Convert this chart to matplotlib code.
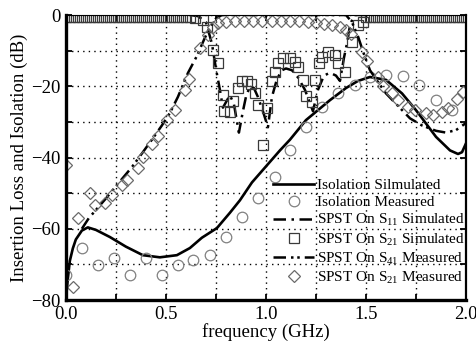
import matplotlib
matplotlib.use("Agg")
import matplotlib.pyplot as plt
from matplotlib.ticker import MultipleLocator

plt.rcParams['font.family'] = ['Liberation Serif', 'DejaVu Serif']
plt.rcParams['mathtext.fontset'] = 'custom'
plt.rcParams['mathtext.rm'] = 'Liberation Serif'
plt.rcParams['mathtext.it'] = 'Liberation Serif:italic'

# Isolation, simulated (solid)
iso_sim_f = [0.0, 0.005, 0.01, 0.02, 0.035, 0.05, 0.08, 0.11, 0.15, 0.22, 0.30, 0.385,
             0.47, 0.555, 0.62, 0.68, 0.755, 0.82, 0.87, 0.93, 1.0, 1.07, 1.12, 1.2,
             1.32, 1.4, 1.46, 1.52, 1.6, 1.68, 1.75, 1.85, 1.92, 1.96, 1.98, 2.0]
iso_sim_db = [-80, -77, -74, -69, -65.5, -63, -60.5, -59.6, -60.3, -62.3, -65, -67.4,
              -68, -67.4, -65.4, -62.5, -59.8, -55.5, -52, -47, -42.5, -38, -35, -29.5,
              -23.9, -20.5, -18.5, -17.4, -18.2, -22, -26.7, -34.2, -38, -39, -38.5, -36]

# Isolation, measured (circles)
iso_meas_f = [0.0, 0.08, 0.16, 0.24, 0.32, 0.40, 0.48, 0.56, 0.635, 0.72, 0.80, 0.88,
              0.96, 1.045, 1.12, 1.20, 1.28, 1.36, 1.445, 1.52, 1.60, 1.685, 1.765,
              1.85, 1.93]
iso_meas_db = [-73, -65.4, -70.2, -68.3, -73, -68.3, -73, -70.2, -68.8, -67.4, -62.3,
               -56.7, -51.4, -45.5, -37.9, -31.4, -25.8, -21.9, -19.6, -17.4, -16.8,
               -17.1, -19.6, -23.9, -26.7]

# SPST on, S11 simulated (dash-dot)
s11_f = [0.62, 0.66, 0.70, 0.73, 0.75, 0.77, 0.785, 0.80, 0.82, 0.84, 0.865, 0.885,
         0.90, 0.92, 0.94, 0.96, 0.985, 1.01, 1.03, 1.055, 1.08, 1.10, 1.13, 1.16,
         1.195, 1.215, 1.235, 1.26, 1.29, 1.32, 1.35, 1.37, 1.39, 1.405, 1.42, 1.44,
         1.50]
s11_db = [0, -0.3, -2, -8, -15, -21, -26, -24.5, -22.5, -25, -33, -27, -23, -20, -20.5,
          -23, -27, -31.5, -23, -18, -15.5, -15, -15.5, -17.5, -21, -24, -27, -21, -17,
          -16.2, -17, -18.5, -12, -8, -3, 0, 0]

# SPST on, S21 simulated (squares)
s21_sim_f = [0.00, 0.02, 0.04, 0.06, 0.08, 0.10, 0.12, 0.14, 0.16, 0.18, 0.20, 0.22,
             0.24, 0.26, 0.28, 0.30, 0.32, 0.34, 0.36, 0.38, 0.40, 0.42, 0.44, 0.46,
             0.48, 0.50, 0.52, 0.54, 0.56, 0.58, 0.60, 0.62,
             0.645, 0.685, 0.705, 0.735, 0.76, 0.787, 0.79, 0.82, 0.835, 0.86, 0.88,
             0.905, 0.925, 0.945, 0.96, 0.985, 1.005, 1.03, 1.045, 1.06, 1.085, 1.12,
             1.145, 1.16, 1.185, 1.20, 1.23, 1.245, 1.265, 1.28, 1.31, 1.345, 1.36,
             1.395, 1.43, 1.46, 1.485,
             1.50, 1.52, 1.54, 1.56, 1.58, 1.60, 1.62, 1.64, 1.66, 1.68, 1.70, 1.72,
             1.74, 1.76, 1.78, 1.80, 1.82, 1.84, 1.86, 1.88, 1.90, 1.92, 1.94, 1.96,
             1.98, 2.00]
s21_sim_db = [-0.5] * 32 + \
             [-0.8, -1.4, -3.4, -9.8, -13.5, -22.5, -27, -27.2, -24.2, -20.5, -18.5,
              -18.5, -19.5, -22, -25.3, -36.5, -26.2, -18.5, -16, -13.5, -12.1, -12.1,
              -13.2, -14.6, -18.2, -22.8, -24.4, -18.2, -13.5, -11.8, -10.4, -11.2,
              -13.5, -16, -7.6, -2.8, -2] + \
             [-0.5] * 26

# SPST on, S41 measured (dash-dot-dot)
s41_f = [0.08, 0.115, 0.2, 0.26, 0.33, 0.385, 0.43, 0.48, 0.52, 0.56, 0.61, 0.655,
         0.69, 0.72, 0.75, 0.78, 1.40, 1.43, 1.46, 1.49, 1.52, 1.55, 1.60, 1.66, 1.72,
         1.78, 1.85, 1.90, 1.95, 2.0]
s41_db = [-60, -57, -51.5, -47.4, -42.7, -38.5, -35, -31, -27.5, -23, -16.3, -11.5,
          -7, -3.4, -1, 0, 0, -2, -6, -11, -15.5, -18, -22, -25.5, -29, -31, -32.5,
          -33, -32.3, -30.3]

# SPST on, S21 measured (diamonds)
s21_meas_f = [0.0, 0.035, 0.06, 0.12, 0.145, 0.195, 0.23, 0.28, 0.305, 0.36, 0.385,
              0.43, 0.46, 0.505, 0.545, 0.595, 0.615, 0.67, 0.71, 0.735, 0.76, 0.80,
              0.845, 0.89, 0.935, 0.98, 1.03, 1.075, 1.12, 1.165, 1.21, 1.25, 1.29,
              1.33, 1.37, 1.40, 1.425, 1.48, 1.505, 1.56, 1.585, 1.63, 1.66, 1.71,
              1.745, 1.80, 1.835, 1.88, 1.91, 1.955, 1.985]
s21_meas_db = [-42, -76.4, -57, -50, -53.3, -52.8, -50.5, -47.7, -46.3, -43, -39.9,
               -36.3, -34, -29.5, -26.7, -21, -18, -9.3, -5.6, -3.4, -2.2, -2, -1.6,
               -1.8, -1.8, -1.8, -1.8, -1.8, -1.8, -1.8, -2, -2.2, -2.5, -2.8, -3.4,
               -4.2, -5.2, -10.4, -12.8, -17.5, -19.8, -22, -23.9, -25.8, -26.7, -27.5,
               -28.2, -27.2, -26, -23.6, -21.6]

fig = plt.figure(figsize=(4.77, 3.41), dpi=100)
ax = fig.add_axes([0.138, 0.12, 0.839, 0.836])

ax.plot(iso_sim_f, iso_sim_db, color='black', lw=1.9, label='Isolation Silmulated')
ax.plot(iso_meas_f, iso_meas_db, 'o', ms=7.6, mfc='none', mec='#808080', mew=0.9,
        label='Isolation Measured')
ax.plot(s11_f, s11_db, color='black', lw=1.8, ls=(0, (5, 2.2, 1, 2.2)),
        label='SPST On S$_{11}$ Simulated')
ax.plot(s21_sim_f, s21_sim_db, 's', ms=6.8, mfc='none', mec='#3a3a3a', mew=0.9,
        label='SPST On S$_{21}$ Simulated')
ax.plot(s41_f, s41_db, color='black', lw=1.8, ls=(0, (5, 2, 1, 1.5, 1, 2)),
        label='SPST On S$_{41}$ Measured')
ax.plot(s21_meas_f, s21_meas_db, 'D', ms=6.6, mfc='none', mec='#6a6a6a', mew=0.9,
        label='SPST On S$_{21}$ Measured')

ax.set_xlim(0, 2.0)
ax.set_ylim(-80, 0)
ax.xaxis.set_major_locator(MultipleLocator(0.5))
ax.xaxis.set_minor_locator(MultipleLocator(0.25))
ax.yaxis.set_major_locator(MultipleLocator(20))
ax.yaxis.set_minor_locator(MultipleLocator(10))
ax.xaxis.set_major_formatter(plt.FormatStrFormatter('%.1f'))
ax.grid(True, which='both', color='black', ls=(0, (1, 3)), lw=1.0)
ax.tick_params(which='both', direction='in', length=4, width=1.3,
               top=True, right=True, labelsize=13.5, pad=4)

ax.spines['left'].set_linewidth(2.4)
ax.spines['bottom'].set_linewidth(2.4)
ax.spines['right'].set_linewidth(1.6)
ax.spines['top'].set_linewidth(0.8)

ax.set_xlabel('frequency (GHz)', fontsize=13.5, labelpad=0)
ax.set_ylabel('Insertion Loss and Isolation (dB)', fontsize=13.5, labelpad=2)

ax.legend(loc='lower right', bbox_to_anchor=(0.998, 0.05), frameon=False,
          fontsize=11.0, handlelength=2.7, handletextpad=0.2, labelspacing=0.2,
          borderpad=0, borderaxespad=0)

fig.savefig('out.png', dpi=100)
